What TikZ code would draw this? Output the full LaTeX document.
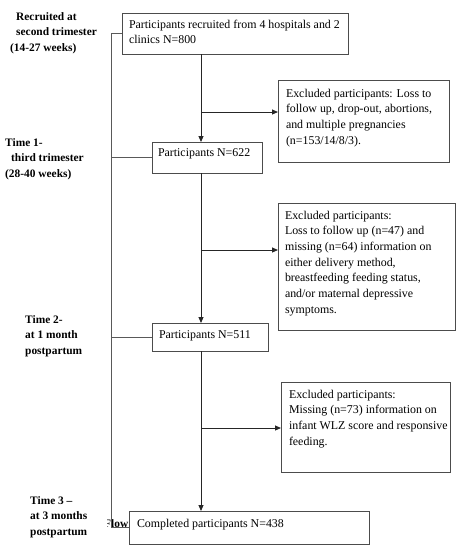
\documentclass[tikz,border=0pt]{standalone}
\usepackage{fontspec}
\setmainfont{Liberation Serif}
\usetikzlibrary{arrows.meta}
\newcommand\bxt[5]{\parbox[t][#1][t]{#2}{\vspace*{#3}\raggedright\leftskip=#4 #5}}
\newcommand\lbl[1]{\parbox[t]{130pt}{\raggedright #1}}
\begin{document}
\begin{tikzpicture}[x=1pt,y=-1pt,
  every node/.style={font=\fontsize{11.9pt}{15.65pt}\selectfont},
  fbox/.style={draw=black!70, line width=0.9pt, inner sep=0pt, outer sep=0pt, anchor=north west},
  lab/.style={inner sep=0pt, anchor=base west, font=\fontsize{11.4pt}{15.6pt}\selectfont\bfseries},
  conn/.style={draw=black!85, line width=1pt},
  arr/.style={conn, -{Triangle[length=6pt,width=5pt]}},
  brk/.style={draw=black!65, line width=0.9pt}]
\useasboundingbox (0,0) rectangle (461,550);
\fill[white] (0,0) rectangle (461,550);

% boxes
\node[fbox] (b1) at (122,13) {\bxt{41pt}{226pt}{6.9pt}{7pt}{Participants recruited from 4 hospitals and 2\\ clinics N=800}};
\node[fbox] (b2) at (152,142) {\bxt{31pt}{110pt}{6.9pt}{6pt}{Participants N=622}};
\node[fbox] (b3) at (152,323) {\bxt{28pt}{116pt}{7.9pt}{7pt}{Participants N=511}};
\node[fbox] (b4) at (129,511) {\bxt{33pt}{240pt}{8.4pt}{8pt}{Completed participants N=438}};
\node[fbox] (e1) at (278,80) {\bxt{82pt}{171pt}{8.9pt}{8pt}{Excluded participants: Loss to\\ follow up, drop-out, abortions,\\ and multiple pregnancies\\ (n=153/14/8/3).}};
\node[fbox] (e2) at (278,203) {\bxt{127pt}{177pt}{7.9pt}{7pt}{Excluded participants:\\ Loss to follow up (n=47) and\\ missing (n=64) information on\\ either delivery method,\\ breastfeeding feeding status,\\ and/or maternal depressive\\ symptoms.}};
\node[fbox] (e3) at (281,382) {\bxt{90pt}{169pt}{7.9pt}{8pt}{Excluded participants:\\ Missing (n=73) information on\\ \mbox{infant WLZ score and responsive}\\ feeding.}};

% left labels
\node[lab] (l1) at (10,20) {\lbl{\hspace*{6pt}Recruited at\\ \hspace*{6pt}second trimester\\ (14-27 weeks)}};
\node[lab] (l2) at (5,146) {\lbl{Time 1-\\ \hspace*{6pt}third trimester\\ (28-40 weeks)}};
\node[lab] (l3) at (25,323) {\lbl{Time 2-\\ at 1 month\\ postpartum}};
\node[lab] (l4) at (30,504) {\lbl{Time 3 --\\ at 3 months\\ postpartum}};

% clipped "Flow"
\begin{scope}
\clip (107.5,510) rectangle (129,535);
\node[lab, anchor=base east] (fl) at (128.5,527.5) {Flow};
\end{scope}

% main flow
\coordinate (m) at (201,0);
\draw[arr] (b1.south -| m) -- (b2.north -| m);
\draw[arr] (b2.south -| m) -- (b3.north -| m);
\draw[arr] (b3.south -| m) -- (b4.north -| m);
\coordinate (j1) at (201,112);
\coordinate (j2) at (201,250);
\coordinate (j3) at (201,428);
\draw[arr] (j1) -- (j1 -| e1.west);
\draw[arr] (j2) -- (j2 -| e2.west);
\draw[arr] (j3) -- (j3 -| e3.west);

% bracket
\draw[brk] (b1.west) -- ++(-11,0) coordinate (k1) -- (k1 |- b4.west) -- (b4.west);
\draw[brk] (b2.west) -- (b2.west -| k1);
\draw[brk] (b3.west) -- (b3.west -| k1);
\end{tikzpicture}
\end{document}
